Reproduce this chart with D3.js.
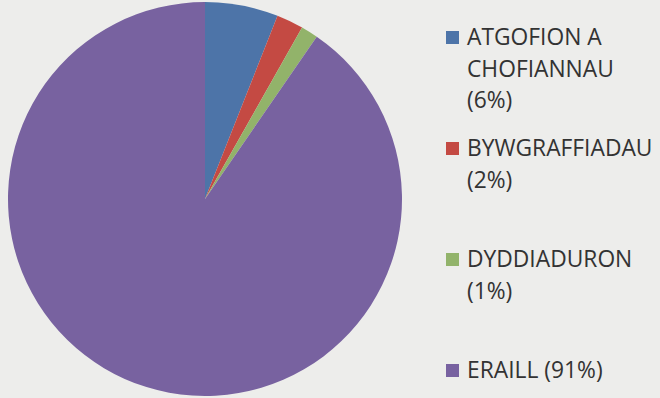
<!DOCTYPE html>
<html>
<head>
<meta charset="utf-8">
<script src="https://cdn.jsdelivr.net/npm/d3@7"></script>
<style>
  html, body { margin: 0; padding: 0; background: #ededeb; }
  svg { display: block; }
</style>
</head>
<body>
<svg id="chart" width="660" height="398"></svg>
<script>
// data
const categories = ["ATGOFION A CHOFIANNAU", "BYWGRAFFIADAU", "DYDDIADURON", "ERAILL"];
const values = [6.0, 2.2, 1.4, 90.4];
const legendLines = [
  ["ATGOFION A", "CHOFIANNAU", "(6%)"],
  ["BYWGRAFFIADAU", "(2%)"],
  ["DYDDIADURON", "(1%)"],
  ["ERAILL (91%)"]
];
const colors = ["#4d74a8", "#c44a43", "#92b36a", "#7862a0"];

const svg = d3.select("#chart");
const cx = 205, cy = 199, r = 197;

const color = d3.scaleOrdinal().domain(categories).range(colors);

const pie = d3.pie().sort(null).value(d => d.value);
const arc = d3.arc().innerRadius(0).outerRadius(r);

const slices = categories.map((c, i) => ({ name: c, value: values[i] }));

svg.append("g")
  .attr("transform", `translate(${cx},${cy})`)
  .selectAll("path")
  .data(pie(slices))
  .join("path")
  .attr("d", arc)
  .attr("fill", d => color(d.data.name));

// legend - entries spread evenly like excel does
const legendY = d3.scaleLinear().domain([0, 3]).range([45, 378]);
const lineH = 31.5;

const items = svg.append("g")
  .selectAll("g")
  .data(categories)
  .join("g")
  .attr("transform", (d, i) => `translate(0,${legendY(i)})`);

items.append("rect")
  .attr("x", 446)
  .attr("y", -14)
  .attr("width", 13)
  .attr("height", 13)
  .attr("fill", d => color(d));

items.append("text")
  .attr("x", 467)
  .attr("font-family", "'Open Sans', sans-serif")
  .attr("font-size", 22.8)
  .attr("fill", "#333")
  .selectAll("tspan")
  .data((d, i) => legendLines[i])
  .join("tspan")
  .attr("x", 467)
  .attr("y", (d, j) => j * lineH)
  .text(d => d);
</script>
</body>
</html>
